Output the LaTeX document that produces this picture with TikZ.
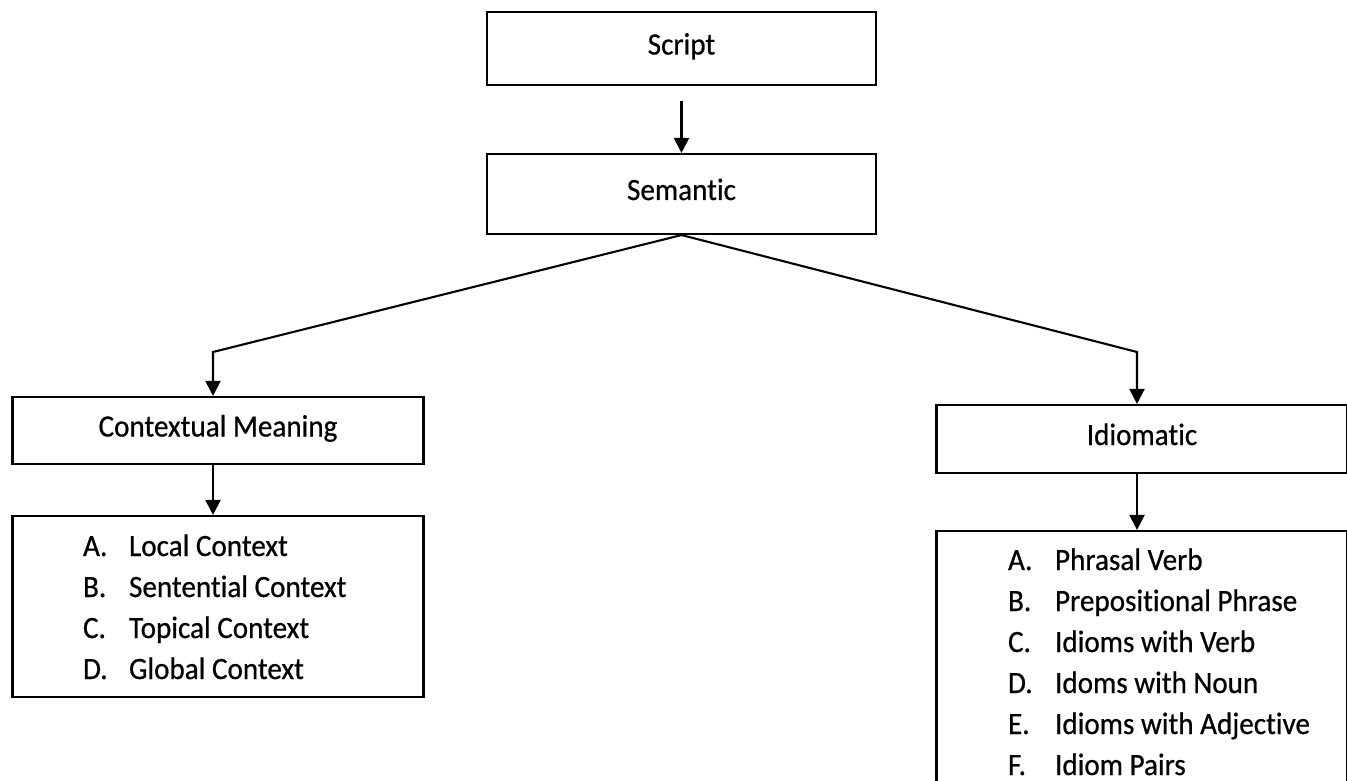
\documentclass[tikz,border=0pt]{standalone}
\usepackage{fontspec}
\setmainfont{Carlito}[FakeStretch=0.94,FakeBold=0.6,RawFeature=-liga]
\usepackage{tikz}
\usetikzlibrary{arrows.meta,positioning,calc}
\def\boxwidth{389pt}
\def\itemsep{41}

\begin{document}
\begin{tikzpicture}[x=1pt,y=-1pt,
    line width=2.1pt,
    myarrow/.style={-{Triangle[length=15pt,width=15pt]}},
    inner sep=0pt]
    \fontsize{31}{36}\selectfont
    \tikzstyle{block}=[rectangle,draw=black,fill=white,text height=21pt,text depth=9pt]
    \tikzstyle{top block}=[block,minimum width=\boxwidth]
    \tikzstyle{side block}=[block,minimum width=411pt]
    \tikzstyle{item}=[anchor=base west,inner sep=0pt]

    \useasboundingbox (0,0) rectangle (1347,781);

    % Draw the top nodes
    \node[top block, minimum height=73pt] (script) at (681.5,48.5) {Script};
    \node[top block, minimum height=80pt] (sem) at (681.5,194) {Semantic};

    % Draw the second level nodes
    \node[side block, minimum height=67pt] (ctx) at (218,430.5) {Contextual Meaning};
    \node[side block, minimum height=68pt] (idiom) at (1142,439) {Idiomatic};

    % Draw the list boxes
    \node[side block, minimum height=181pt] (ctx-list) at (218,606.5) {};
    \node[side block, minimum height=270pt] (idiom-list) at (1142,666) {};

    % Fill in the lists
    \foreach \lab/\txt [count=\i] in {A./Local Context,B./Sentential Context,
        C./Topical Context,D./Global Context}
    {
        \node[item] (ctx-lab-\i) at (82,515+\itemsep*\i) {\lab};
        \node[item] (ctx-txt-\i) at (128,515+\itemsep*\i) {\txt};
    }
    \foreach \lab/\txt [count=\i] in {A./Phrasal Verb,B./Prepositional Phrase,
        C./Idioms with Verb,D./Idoms with Noun,E./Idioms with Adjective,F./Idiom Pairs}
    {
        \node[item] (idiom-lab-\i) at (1007,529+\itemsep*\i) {\lab};
        \node[item] (idiom-txt-\i) at (1054,529+\itemsep*\i) {\txt};
    }

    % Connect the nodes
    \coordinate (lbend) at (213,352);
    \coordinate (rbend) at (1137,352);

    \draw[myarrow, shorten <=15pt] (script) -- (sem);
    \draw[myarrow] (sem.south) -- (lbend) -- (lbend |- ctx.north);
    \draw[myarrow] (sem.south) -- (rbend) -- (rbend |- idiom.north);
    \draw[myarrow] (lbend |- ctx.south) -- (lbend |- ctx-list.north);
    \draw[myarrow] (rbend |- idiom.south) -- (rbend |- idiom-list.north);
\end{tikzpicture}
\end{document}
